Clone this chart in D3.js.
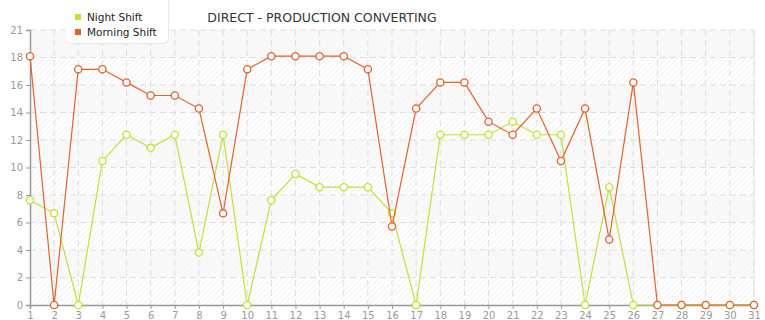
<!DOCTYPE html>
<html><head><meta charset="utf-8">
<script src="https://cdn.jsdelivr.net/npm/d3@7"></script>
<style>
html,body{margin:0;padding:0;background:#fff;}
svg{display:block;font-family:"DejaVu Sans",Verdana,sans-serif;}
</style></head>
<body>
<svg id="chart" width="765" height="320"></svg>
<script>
const days = d3.range(1, 32);
const nightShift = [8,7,0,11,13,12,13,4,13,0,8,10,9,9,9,7,0,13,13,13,14,13,13,0,9,0,0,0,0,0,0];
const morningShift = [19,0,18,18,17,16,16,15,7,18,19,19,19,19,18,6,15,17,17,14,13,15,11,15,5,17,0,0,0,0,0];
const seriesNames = ["Night Shift", "Morning Shift"];
const seriesColors = ["#c3df3a", "#e0622f"];
const yMax = 21;
const yTickLabels = ["0","2","4","6","8","10","12","14","16","18","21"];
const title = "DIRECT - PRODUCTION CONVERTING";

const svg = d3.select("#chart");
const m = {left:30, right:11, top:30, bottom:15};
const W = 765, H = 320;
const x = d3.scaleLinear().domain([1, 31]).range([m.left, W - m.right]);
const y = d3.scaleLinear().domain([0, yMax]).range([H - m.bottom, m.top]);
const yTickVals = yTickLabels.map((_, i) => i * yMax / (yTickLabels.length - 1));

const defs = svg.append("defs");
const pat = defs.append("pattern").attr("id","hatch").attr("patternUnits","userSpaceOnUse")
  .attr("width",4).attr("height",4).attr("patternTransform","rotate(45)");
pat.append("rect").attr("width",4).attr("height",4).attr("fill","#ffffff");
pat.append("line").attr("x1",0).attr("y1",0).attr("x2",0).attr("y2",4)
  .attr("stroke","#ececec").attr("stroke-width",1.3);

// plot background
svg.append("rect").attr("x", x(1)).attr("y", y(yMax)).attr("width", x(31)-x(1))
  .attr("height", y(0)-y(yMax)).attr("fill","url(#hatch)");
// alternating bands
for (let i = 0; i < yTickVals.length - 1; i++) {
  if (i % 2 === 1) {
    svg.append("rect").attr("x", x(1)).attr("y", y(yTickVals[i+1]))
      .attr("width", x(31)-x(1)).attr("height", y(yTickVals[i]) - y(yTickVals[i+1]))
      .attr("fill","#f7f7f7").attr("opacity",0.7);
  }
}
// grid
const grid = svg.append("g");
grid.selectAll(".vg").data(days.slice(1)).join("line")
  .attr("x1", d=>x(d)).attr("x2", d=>x(d)).attr("y1", y(yMax)).attr("y2", y(0))
  .attr("stroke","#dddddd").attr("stroke-dasharray","6,4");
grid.selectAll(".hg").data(yTickVals.slice(1)).join("line")
  .attr("x1", x(1)).attr("x2", x(31)).attr("y1", d=>y(d)).attr("y2", d=>y(d))
  .attr("stroke","#dddddd").attr("stroke-dasharray","6,4");
svg.append("line").attr("x1", x(31)).attr("x2", x(31)).attr("y1", y(yMax)).attr("y2", y(0))
  .attr("stroke","#e4e4e4");

// axes
const xAxis = d3.axisBottom(x).tickValues(days).tickFormat(d3.format("d")).tickSize(4).tickPadding(3);
const yAxis = d3.axisLeft(y).tickValues(yTickVals).tickFormat((d,i)=>yTickLabels[i]).tickSize(4).tickPadding(3);
const gx = svg.append("g").attr("transform", `translate(0,${y(0)})`).call(xAxis);
const gy = svg.append("g").attr("transform", `translate(${x(1)},0)`).call(yAxis);
[gx, gy].forEach(g => {
  g.select(".domain").attr("stroke","#999999").attr("stroke-width",1.5);
  g.selectAll(".tick line").attr("stroke","#999999");
  g.selectAll("text").attr("fill","#999999").attr("font-size","10px")
   .attr("font-family","'DejaVu Sans',Verdana,sans-serif");
});

// series
const allSeries = [nightShift, morningShift];
allSeries.forEach((vals, si) => {
  const pts = vals.map((v, i) => [days[i], v]);
  svg.append("path").datum(pts)
    .attr("d", d3.line().x(d=>x(d[0])).y(d=>y(d[1])))
    .attr("fill","none").attr("stroke", seriesColors[si]).attr("stroke-width",1.2);
  svg.append("g").selectAll("circle").data(pts).join("circle")
    .attr("cx", d=>x(d[0])).attr("cy", d=>y(d[1])).attr("r",3.6)
    .attr("fill","#ffffff").attr("stroke", seriesColors[si]).attr("stroke-width",1.3);
});

// title
svg.append("text").attr("x", 322).attr("y", 22).attr("text-anchor","middle")
  .attr("font-size","12.5px").attr("fill","#333333").text(title);

// legend
const lg = svg.append("g");
lg.append("rect").attr("x",66).attr("y",-8).attr("width",102).attr("height",51).attr("rx",6)
  .attr("fill","#e6e6e6").attr("transform","translate(1,1)");
lg.append("rect").attr("x",66).attr("y",-8).attr("width",102).attr("height",51).attr("rx",6)
  .attr("fill","#ffffff");
seriesNames.forEach((name, i) => {
  lg.append("rect").attr("x",75).attr("y",14 + i*15).attr("width",6).attr("height",6)
    .attr("fill", seriesColors[i]);
  lg.append("text").attr("x",87).attr("y",21 + i*15).attr("font-size","10.5px")
    .attr("fill","#222222").text(name);
});
</script>
</body></html>
